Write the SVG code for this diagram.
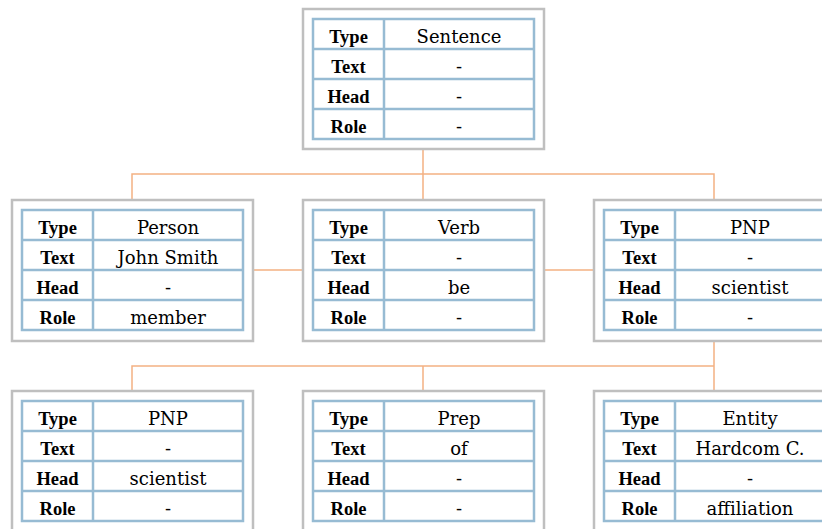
<svg xmlns="http://www.w3.org/2000/svg" width="822" height="529" viewBox="0 0 822 529">
  <style>
    .frame { fill: #ffffff; stroke: #bfbfbf; stroke-width: 2.5; }
    .grid { fill: none; stroke: #97bbd3; stroke-width: 2.5; }
    .link { fill: none; stroke: #f4b183; stroke-width: 1.5; }
    .key { font-family: "Liberation Serif", "DejaVu Serif", serif; font-weight: bold; font-size: 18.5px; text-anchor: middle; fill: #000; }
    .val { font-family: "DejaVu Serif", "Liberation Serif", serif; font-size: 18px; text-anchor: middle; fill: #000; }
  </style>
  <defs>
    <!-- 221 x 120 attribute table: key column 71 wide, four rows of 30 -->
    <g id="grid">
      <rect class="grid" x="0" y="0" width="221" height="120"/>
      <path class="grid" d="M71 0V120M0 30H221M0 60H221M0 90H221"/>
    </g>
  </defs>

  <g id="connectors">
    <path class="link" d="M423 149V200M132 199V174H714V200"/>
    <path class="link" d="M253 270H303M543 270H594"/>
    <path class="link" d="M714 341V391M132 390V366H714M423 366V391"/>
  </g>

  <g id="sentence" transform="translate(303,9)">
    <rect class="frame" x="0" y="0" width="241" height="140"/>
    <use href="#grid" x="10" y="10"/>
    <text class="key" x="45.5" y="34">Type</text><text class="val" x="156" y="34">Sentence</text>
    <text class="key" x="45.5" y="64">Text</text><text class="val" x="156" y="64">-</text>
    <text class="key" x="45.5" y="94">Head</text><text class="val" x="156" y="94">-</text>
    <text class="key" x="45.5" y="124">Role</text><text class="val" x="156" y="124">-</text>
  </g>

  <g id="person" transform="translate(12,200)">
    <rect class="frame" x="0" y="0" width="241" height="141"/>
    <use href="#grid" x="10" y="10"/>
    <text class="key" x="45.5" y="34">Type</text><text class="val" x="156" y="34">Person</text>
    <text class="key" x="45.5" y="64">Text</text><text class="val" x="156" y="64">John Smith</text>
    <text class="key" x="45.5" y="94">Head</text><text class="val" x="156" y="94">-</text>
    <text class="key" x="45.5" y="124">Role</text><text class="val" x="156" y="124">member</text>
  </g>

  <g id="verb" transform="translate(303,200)">
    <rect class="frame" x="0" y="0" width="241" height="141"/>
    <use href="#grid" x="10" y="10"/>
    <text class="key" x="45.5" y="34">Type</text><text class="val" x="156" y="34">Verb</text>
    <text class="key" x="45.5" y="64">Text</text><text class="val" x="156" y="64">-</text>
    <text class="key" x="45.5" y="94">Head</text><text class="val" x="156" y="94">be</text>
    <text class="key" x="45.5" y="124">Role</text><text class="val" x="156" y="124">-</text>
  </g>

  <g id="pnp-upper" transform="translate(594,200)">
    <rect class="frame" x="0" y="0" width="241" height="141"/>
    <use href="#grid" x="10" y="10"/>
    <text class="key" x="45.5" y="34">Type</text><text class="val" x="156" y="34">PNP</text>
    <text class="key" x="45.5" y="64">Text</text><text class="val" x="156" y="64">-</text>
    <text class="key" x="45.5" y="94">Head</text><text class="val" x="156" y="94">scientist</text>
    <text class="key" x="45.5" y="124">Role</text><text class="val" x="156" y="124">-</text>
  </g>

  <g id="pnp-lower" transform="translate(12,391)">
    <rect class="frame" x="0" y="0" width="241" height="141"/>
    <use href="#grid" x="10" y="10"/>
    <text class="key" x="45.5" y="34">Type</text><text class="val" x="156" y="34">PNP</text>
    <text class="key" x="45.5" y="64">Text</text><text class="val" x="156" y="64">-</text>
    <text class="key" x="45.5" y="94">Head</text><text class="val" x="156" y="94">scientist</text>
    <text class="key" x="45.5" y="124">Role</text><text class="val" x="156" y="124">-</text>
  </g>

  <g id="prep" transform="translate(303,391)">
    <rect class="frame" x="0" y="0" width="241" height="141"/>
    <use href="#grid" x="10" y="10"/>
    <text class="key" x="45.5" y="34">Type</text><text class="val" x="156" y="34">Prep</text>
    <text class="key" x="45.5" y="64">Text</text><text class="val" x="156" y="64">of</text>
    <text class="key" x="45.5" y="94">Head</text><text class="val" x="156" y="94">-</text>
    <text class="key" x="45.5" y="124">Role</text><text class="val" x="156" y="124">-</text>
  </g>

  <g id="entity" transform="translate(594,391)">
    <rect class="frame" x="0" y="0" width="241" height="141"/>
    <use href="#grid" x="10" y="10"/>
    <text class="key" x="45.5" y="34">Type</text><text class="val" x="156" y="34">Entity</text>
    <text class="key" x="45.5" y="64">Text</text><text class="val" x="156" y="64">Hardcom C.</text>
    <text class="key" x="45.5" y="94">Head</text><text class="val" x="156" y="94">-</text>
    <text class="key" x="45.5" y="124">Role</text><text class="val" x="156" y="124">affiliation</text>
  </g>
</svg>
